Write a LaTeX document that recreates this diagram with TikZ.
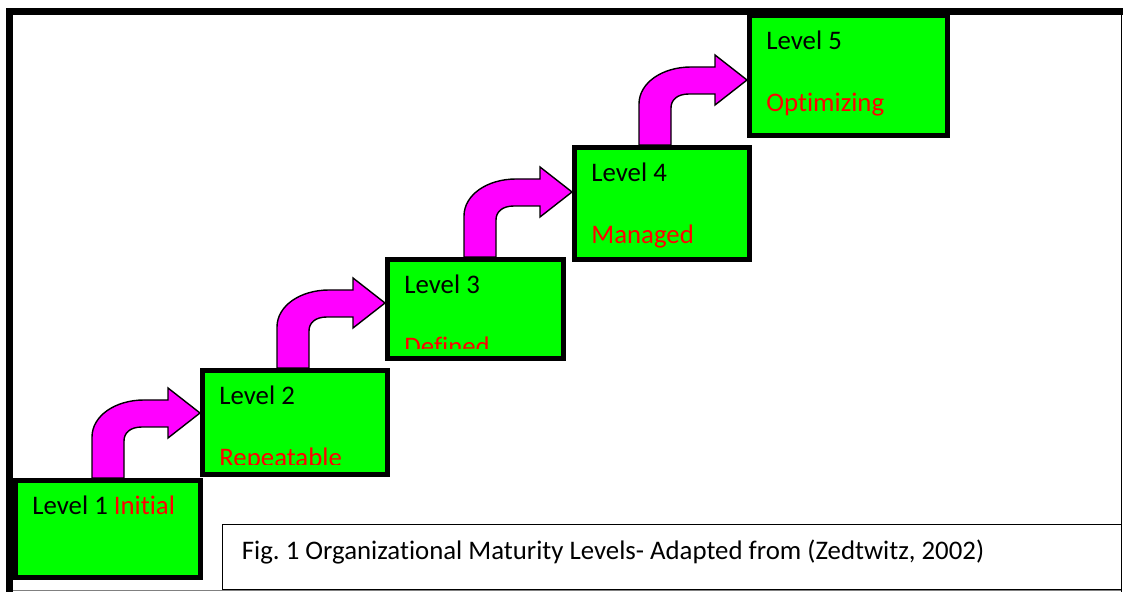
\documentclass[tikz,border=0pt]{standalone}
\usepackage{fontspec}
\setmainfont{Carlito}[Ligatures=NoCommon]
\usetikzlibrary{calc,fit,backgrounds}

\begin{document}
\begin{tikzpicture}[x=0.5pt,y=-0.5pt,
    levelbox/.style={draw=black, line width=2.5pt, fill=levelgreen, inner sep=0pt},
    leveltext/.style={anchor=base west, inner sep=0pt, font=\fontsize{13.4}{16}\selectfont},
    bentarrow/.style={fill=stepmagenta, draw=black, line width=0.7pt, line join=miter}]
    % Define colors
    \definecolor{levelgreen}{RGB}{0, 255, 0}   % Box fill
    \definecolor{stepmagenta}{RGB}{255, 0, 255} % Arrows
    \definecolor{levelred}{RGB}{255, 0, 0}     % Level names

    \useasboundingbox (0,0) rectangle (1125,592);

    % Outer frame
    \fill (6,8) rectangle (1123,15);
    \fill (6,8) rectangle (13,592);
    \draw[line width=0.5pt] (1121,15) -- (1121,592);
    \draw[gray, line width=0.5pt] (13,591) -- (1121,591);

    % Level boxes
    \node[levelbox, fit={(15.5,480.5) (200.5,577.5)}] (level1) {};
    \node[levelbox, fit={(202.5,370.5) (387.5,474.5)}] (level2) {};
    \node[levelbox, fit={(387.5,259.5) (563.5,358.5)}] (level3) {};
    \node[levelbox, fit={(574.5,147.5) (749.5,259.5)}] (level4) {};
    \node[levelbox, fit={(749.5,15.5) (947.5,135.5)}] (level5) {};

    % Box texts
    \node[leveltext] (name1) at ($(level1.north west)+(19,37)$) {Level 1 \textcolor{levelred}{Initial}};
    \foreach \i in {2,...,5}
        \node[leveltext] (name\i) at ($(level\i.north west)+(19,37)$) {Level \i};
    \foreach \i/\word in {2/Repeatable,3/Defined,4/Managed,5/Optimizing} {
        \begin{scope}
            \clip (level\i.north west) rectangle ($(level\i.south east)+(0,-12)$);
            \node[leveltext, text=levelred] (word\i) at ($(level\i.north west)+(19,99)$) {\word};
        \end{scope}
    }

    % Bent arrows between the levels
    \begin{scope}[on background layer]
        \foreach \a/\b in {1/2,2/3,3/4,4/5} {
            \coordinate (tip\a) at ($(level\b.west |- level\a.north)+(0,-65)$);
            \filldraw[bentarrow] ($(tip\a)+(-108,65)$) -- ($(tip\a)+(-108,24)$)
                .. controls ($(tip\a)+(-108,3)$) and ($(tip\a)+(-85,-13)$) .. ($(tip\a)+(-56,-13)$)
                -- ($(tip\a)+(-32,-13)$) -- ($(tip\a)+(-32,-25)$) -- (tip\a)
                -- ($(tip\a)+(-32,25)$) -- ($(tip\a)+(-32,14)$) -- ($(tip\a)+(-58,14)$)
                .. controls ($(tip\a)+(-70,14)$) and ($(tip\a)+(-76,20)$) .. ($(tip\a)+(-76,28)$)
                -- ($(tip\a)+(-76,65)$) -- cycle;
        }
    \end{scope}

    % Caption
    \node[draw, line width=0.5pt, inner sep=0pt, fit={(222.5,525) (1121,590)}] (capbox) {};
    \node[leveltext] (caption) at ($(capbox.north west)+(19.5,35)$) {Fig.\ 1 Organizational Maturity Levels- Adapted from (Zedtwitz, 2002)};
\end{tikzpicture}
\end{document}
